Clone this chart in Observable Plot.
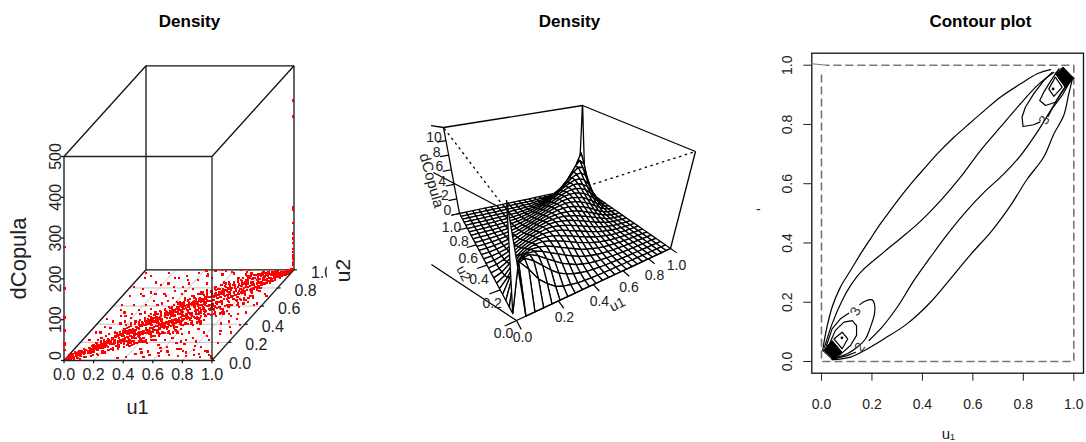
<!DOCTYPE html>
<html>
<head>
<meta charset="utf-8">
<script src="https://cdn.jsdelivr.net/npm/d3@7"></script>
<script src="https://cdn.jsdelivr.net/npm/@observablehq/plot@0.6"></script>
<style>
html,body{margin:0;padding:0;background:#fff;}
#page{position:relative;width:1086px;height:442px;overflow:hidden;}
#page svg{position:absolute;top:0;background:transparent;}
</style>
</head>
<body>
<div id="page"></div>
<script>
// ---------- shared labels ----------
const titles = ["Density", "Density", "Contour plot"];
const unitTicks = [0, 0.2, 0.4, 0.6, 0.8, 1];
const cubeZTicks = [0, 100, 200, 300, 400, 500];
const wireZTicks = [0, 2, 4, 6, 8, 10];

// ---------- panel 1: scatter cloud, u1,u2 pairs in hundredths ----------
const scatterPairs = [
1,2,2,1,3,3,2,4,4,2,1,5,5,3,3,6,6,4,4,7,7,5,2,2,1,1,5,6,3,1,1,3,6,7,8,6,4,4,5,8,7,9,8,8,9,7,6,9,10,8,9,11,3,5,2,6,7,3,10,1,8,2,6,1,4,1,12,3,9,4,10,6,11,9,8,11,7,12,5,10,9,9,11,12,12,10,3,8,
13,11,12,14,14,12,15,13,14,16,13,15,16,14,16,17,15,16,17,15,18,16,17,19,16,20,18,19,19,17,20,18,19,20,18,22,20,21,21,19,12,18,11,16,14,20,15,22,13,9,15,9,17,11,19,13,20,14,16,11,10,13,19,24,17,23,22,17,21,15,18,13,14,7,20,10,
11,15,13,17,12,8,14,9,15,18,16,13,17,13,18,20,19,15,20,23,11,10,13,13,15,15,17,17,19,19,12,12,14,14,16,16,18,18,20,20,
21,27,22,29,24,30,23,31,26,33,25,32,28,34,27,20,29,22,30,24,26,19,28,21,24,17,22,14,30,19,27,15,25,37,20,29,23,35,29,36,26,30,24,24,28,28,22,26,30,31,27,33,
21,25,22,18,23,28,24,19,25,30,26,22,27,31,28,24,29,33,20,24,21,18,22,27,23,19,24,28,25,21,26,32,27,23,28,32,29,25,30,35,21,30,23,27,25,26,27,28,29,30,30,26,28,19,26,26,24,32,22,22,20,26,
31,37,32,39,33,41,34,43,36,44,35,42,38,46,37,45,39,48,32,25,33,24,35,27,36,26,38,29,39,31,40,30,37,25,34,21,36,20,39,23,31,43,33,47,36,50,30,41,38,17,40,24,35,30,37,31,33,28,39,35,31,31,34,38,36,41,38,42,
31,35,32,28,33,38,34,29,35,40,36,31,37,42,38,33,39,44,40,35,31,26,32,37,33,27,34,40,35,29,36,43,37,33,38,44,39,33,40,45,32,34,34,30,36,35,38,38,40,41,30,33,33,44,35,46,37,28,39,42,31,40,
41,50,42,53,43,55,45,56,44,58,46,57,48,60,47,59,42,33,43,31,45,35,46,34,48,37,49,39,50,36,47,30,44,27,46,26,49,28,41,58,43,62,38,55,40,52,48,22,50,30,45,40,47,41,43,37,49,44,41,41,44,46,46,48,48,49,42,40,50,50,45,51,47,54,43,51,49,57,44,38,46,39,41,35,
41,45,42,37,43,49,44,39,45,50,46,41,47,53,48,43,49,55,50,45,41,36,42,47,43,38,44,51,45,39,46,53,47,43,48,55,49,42,50,56,42,43,44,40,46,46,48,48,50,52,40,45,43,54,45,58,47,36,49,51,41,52,42,49,44,55,46,37,48,42,50,41,
51,60,52,63,53,65,55,66,54,68,56,67,58,70,57,69,52,43,53,41,55,45,56,44,58,47,59,49,60,46,57,40,54,37,56,36,59,38,51,68,53,72,48,65,50,62,58,32,60,40,55,50,57,51,53,47,59,54,51,51,54,56,56,58,58,59,52,50,60,60,55,61,57,64,53,61,59,67,54,48,56,49,51,45,
50,56,52,46,54,60,53,48,56,59,55,52,57,65,59,54,58,66,60,53,51,44,52,58,53,49,54,63,55,48,56,62,58,51,59,64,60,57,51,53,53,55,55,48,57,57,59,60,50,53,52,65,54,67,56,45,58,50,60,63,51,57,53,44,55,64,57,47,59,55,
61,70,62,73,63,75,65,76,64,78,66,77,68,80,67,79,62,53,63,51,65,55,66,54,68,57,69,59,70,56,67,50,64,47,66,46,69,48,61,78,58,75,60,72,68,42,70,50,65,60,67,61,63,57,69,64,61,61,64,66,66,68,68,69,62,60,70,70,65,71,67,74,63,71,
61,65,62,58,64,70,63,56,66,72,65,59,67,72,68,63,69,75,70,64,60,66,62,55,63,69,64,59,65,73,66,61,68,76,67,60,69,71,70,65,61,63,63,65,65,66,67,69,69,62,62,70,64,74,66,73,68,58,60,55,
71,80,72,83,73,85,75,86,74,88,76,87,78,89,72,63,73,61,75,65,76,64,78,67,79,69,80,66,77,60,74,57,76,56,79,58,71,88,68,85,70,82,78,52,80,60,75,70,77,71,73,67,79,74,71,71,74,76,76,78,78,79,72,70,80,80,75,81,
71,74,73,68,72,79,74,70,75,82,76,71,77,83,78,72,79,85,80,74,70,77,71,65,73,80,74,68,76,84,75,69,78,84,77,73,79,80,80,76,72,72,74,74,76,76,78,77,71,67,73,78,75,84,77,67,
81,90,82,92,83,93,85,94,84,95,82,73,83,71,85,75,86,74,88,77,89,79,90,76,87,70,84,68,86,66,89,70,80,92,78,90,82,82,85,80,87,81,83,77,89,84,81,81,84,86,86,88,88,89,90,90,85,85,
81,84,83,78,82,88,84,79,85,90,86,81,87,92,88,83,89,93,90,85,80,86,81,75,83,89,84,77,86,93,85,78,88,94,87,83,89,90,90,87,82,83,84,84,86,86,88,88,81,77,83,87,85,91,87,79,
91,89,92,93,93,91,91,94,94,92,93,95,95,93,94,96,96,94,95,97,97,95,96,98,98,96,97,99,99,97,98,99,99,98,92,90,90,93,93,97,95,99,91,96,92,85,94,88,96,90,93,87,95,91,97,93,98,94,99,95,97,97,96,96,98,98,94,94,100,99,99,100,92,96,89,94,
91,92,92,87,93,89,94,91,95,94,96,92,97,96,98,95,99,96,90,95,91,88,92,94,93,93,94,97,95,96,96,95,97,98,98,97,99,99,100,98,98,100,
99,2,97,4,85,5,90,10,75,4,72,12,80,15,60,10,62,4,52,3,45,6,55,16,40,3,35,2,68,20,78,30,88,32,92,45,95,60,86,48,84,40,96,72,2,96,8,92,15,85,10,78,18,96,6,70,14,60,25,90,22,72,30,80,12,48,18,42,35,88,45,94,55,98,62,95,70,97,40,76,50,84,8,30,5,22,12,35,26,52,30,60,34,65,
12,24,15,28,18,30,11,22,14,26,17,5,19,6,16,4,13,3,20,5,
21,38,23,40,25,42,27,44,29,46,22,34,24,36,26,40,28,41,30,45,21,10,23,8,25,12,27,11,29,14,22,7,24,11,26,13,28,16,30,12,
31,48,33,52,35,54,37,56,39,58,32,45,34,49,36,53,38,55,40,57,31,17,33,14,35,18,37,19,39,18,32,20,34,16,36,15,38,24,40,20,31,50,35,50,39,54,33,19,37,16,
41,60,43,64,45,66,47,66,49,70,42,56,44,62,46,63,48,67,50,68,41,24,43,22,45,25,47,26,49,22,42,28,44,20,46,18,48,29,50,26,41,64,45,62,49,64,43,28,47,22,44,68,48,70,42,20,46,30,50,22,
51,72,53,74,55,75,57,76,59,78,52,67,54,72,56,73,58,76,60,77,51,34,53,32,55,35,57,30,59,31,52,37,54,30,56,28,58,38,60,34,51,75,55,71,59,74,53,38,57,33,54,77,58,80,52,29,56,40,60,30,
61,82,63,84,65,84,67,86,69,88,62,78,64,81,66,83,68,85,70,86,61,44,63,42,65,45,67,41,69,42,62,47,64,40,66,38,68,49,70,44,61,85,65,80,69,82,63,46,67,44,64,86,68,90,62,39,66,48,70,40,
71,90,73,92,75,92,77,93,79,94,72,87,74,91,76,90,78,93,80,94,71,55,73,52,75,56,77,51,79,52,72,57,74,50,76,48,78,60,80,54,71,94,75,89,79,90,73,58,77,55,74,95,72,49,76,59,80,50,
81,95,83,96,85,97,87,97,89,98,82,94,84,97,86,95,88,97,90,98,81,65,83,62,85,66,87,62,89,64,82,67,84,60,86,58,88,70,90,68,81,97,85,92,83,66,87,68,
30,38,32,43,34,45,36,47,38,50,40,51,42,54,44,54,46,59,48,58,50,60,52,62,54,64,56,65,58,68,60,69,62,72,64,74,66,75,68,78,70,79,
30,21,32,22,34,24,36,27,38,28,40,29,42,30,44,33,46,36,48,35,50,38,52,40,54,42,56,43,58,45,60,48,62,50,64,52,66,53,68,55,70,58,
31,39,33,40,35,45,37,47,39,47,41,49,43,50,45,54,47,55,49,59,51,61,53,60,55,65,57,67,59,69,61,69,63,72,65,74,67,77,69,79,
31,23,33,26,35,24,37,29,39,29,41,31,43,33,45,33,47,38,49,36,51,41,53,43,55,42,57,46,59,46,61,51,63,53,65,54,67,56,69,56,
45,12,48,8,52,9,55,5,58,13,60,7,62,14,65,9,68,5,70,12,72,17,75,10,78,8,80,4,82,11,85,14,88,6,90,3,92,9,95,5,98,2,66,18,70,22,74,24,78,20,82,26,86,22,90,28,94,18,96,30,98,38,92,36,88,42,84,50,90,50,94,52,96,62,98,70,56,22,60,24,64,28,68,30,72,34,
5,30,8,36,10,42,12,52,15,48,18,50,20,55,22,60,25,65,28,72,30,70,33,76,36,80,38,84,42,88,46,92,50,90,55,94,60,97,65,99,70,99,12,72,15,70,18,74,20,82,24,84,28,90,32,92,38,96,42,98,48,98,52,99,8,55,4,45,6,60,3,80,5,90,16,40,20,46,24,50,28,56,32,62,36,68,40,72,44,78
];
const highCornerZ = [416, 377, 154, 149, 115, 90, 78, 66, 53, 44, 36, 29, 19, 12];
const lowCornerZ = [277, 176, 105, 73, 41, 37, 25];

// ---------- panel 2: wire surface, rows from the diagonal outward ----------
const surfaceRows = [
[0],
[5.3,4.0,2.5,1.6,.9,.53,.32,.17,.1,.05,.03,.01],
[4.6,3.9,3.0,2.1,1.4,.97,.63,.41,.25,.15,.09,.05,.03,.01],
[4.0,3.5,2.8,2.2,1.6,1.2,.81,.56,.35,.23,.15,.09,.05,.03,.01],
[3.45,3.1,2.6,2.15,1.7,1.3,.95,.65,.46,.3,.2,.12,.07,.04,.02,.01],
[3.05,2.85,2.5,2.1,1.7,1.35,1.0,.74,.53,.36,.23,.14,.08,.04,.02,.01],
[2.85,2.65,2.35,2.05,1.7,1.35,1.05,.8,.57,.39,.26,.15,.09,.04,.02,.01],
[2.65,2.5,2.25,1.95,1.65,1.33,1.06,.8,.58,.4,.26,.15,.08,.04,.02,.01],
[2.5,2.4,2.2,1.9,1.63,1.35,1.06,.81,.59,.39,.26,.14,.07,.03,.01],
[2.4,2.3,2.1,1.88,1.6,1.33,1.05,.8,.57,.39,.23,.11,.05,.02],
[2.33,2.23,2.07,1.86,1.6,1.32,1.05,.78,.55,.34,.18,.08,.03],
[2.25,2.18,2.05,1.85,1.6,1.32,1.03,.76,.5,.27,.13,.04,.01],
[2.2,2.17,2.03,1.83,1.57,1.27,.97,.66,.39,.2,.06,.01]
];
const frontSpike = 13;
const backSpike = 11.8;
const zMax = 11.8;

// ---------- panel 3: contour paths as flat u1,u2 lists ----------
const smoothContours = [
[.005,.037,.016,.093,.042,.183,.075,.251,.115,.307,.155,.363,.194,.414,.234,.465,.273,.510,.320,.563,.366,.611,.406,.650,.458,.700,.524,.756,.577,.796,.643,.845,.709,.892,.789,.937,.855,.971,.908,.985],
[.042,.006,.115,.015,.174,.039,.247,.076,.339,.127,.432,.200,.511,.279,.590,.360,.676,.442,.749,.526,.815,.615,.881,.690,.921,.768,.960,.830,.980,.903,.993,.948],
[.012,.048,.042,.127,.082,.206,.115,.256,.155,.301,.247,.369,.313,.415,.392,.473,.472,.543,.551,.622,.630,.712,.709,.791,.789,.870,.855,.931,.921,.976],
[.188,.071,.240,.116,.300,.183,.366,.273,.432,.352,.498,.428,.577,.510,.643,.570,.723,.633,.789,.695,.855,.774,.908,.847,.960,.920,.993,.954],
[.152,.192,.174,.204,.201,.208,.211,.189,.210,.161,.194,.116,.174,.076,.141,.048,.102,.026,.042,.009]
];
const cornerContours = [
[.049,.009,.102,.020,.135,.031],
[.020,.054,.042,.110,.075,.144,.108,.163],
[.865,.808,.841,.799,.799,.793,.795,.825,.808,.858,.841,.903,.881,.948,.914,.976],
[.898,.827,.914,.853,.954,.898,.987,.948],
[.029,.054,.055,.105,.089,.133,.122,.138,.139,.121,.139,.088,.115,.054,.075,.024,.042,.009],
[.941,.988,.914,.954,.881,.909,.865,.881,.888,.864,.927,.875,.967,.926,.993,.960],
[.049,.076,.082,.099,.104,.076,.082,.043,.049,.076],
[.901,.920,.927,.960,.954,.926,.921,.895,.901,.920]
];
const denseWedges = [
[.007,.037,.042,.071,.082,.031,.046,.006],
[.958,.993,1.0,.956,.967,.924,.927,.971]
];
const peakDots = [[.081,.08],[.918,.92]];
const contourLabels = [
  {u1:.135, u2:.169, text:"3", rotate:-65},
  {u1:.883, u2:.815, text:"3", rotate:-65},
  {u1:.152, u2:.048, text:"2", rotate:-55}
];
const outlineDash = [[0,.967],[0,0],[1,0],[1,1],[.02,1]];
const outlineStub = [[-.04,1.005],[.02,1]];

// ---------- view set-up ----------
const FONT = "Liberation Sans, Arial, sans-serif";
const page = document.getElementById("page");
const pairs = flat => d3.range(0, flat.length, 2).map(k => [flat[k], flat[k + 1]]);
function mount(svg, left) { svg.style.left = left + "px"; page.appendChild(svg); }

// Panel 1 oblique view
const cube = {x0:63.5, xU:148, xV:82, y0:360, yV:90.7, yZ:.408};
const p1 = (u, v, z = 0) => ({x: cube.x0 + cube.xU*u + cube.xV*v, y: cube.y0 - cube.yV*v - cube.yZ*z});
const seg1 = (a, b) => { const p = p1(...a), q = p1(...b); return {x1:p.x, y1:p.y, x2:q.x, y2:q.y}; };

const scatter = pairs(scatterPairs).map(([a, b]) => p1(a/100, b/100, 2));
highCornerZ.forEach(z => scatter.push(p1(.995, .995, z)));
lowCornerZ.forEach(z => scatter.push(p1(.002, .002, z)));

const gridLines = unitTicks.slice(1, 5).flatMap(t => [seg1([t,0,0],[t,1,0]), seg1([0,t,0],[1,t,0])]);
const backEdges = [
  seg1([0,1,0],[0,1,500]), seg1([0,1,500],[1,1,500]), seg1([0,1,0],[1,1,0]),
  seg1([0,0,500],[0,1,500]), seg1([1,0,500],[1,1,500]), seg1([0,0,0],[0,1,0]),
  seg1([1,1,0],[1,1,500]), seg1([0,0,0],[0,0,500])
];
const frontEdges = [
  seg1([0,0,500],[1,0,500]), seg1([1,0,0],[1,0,500]), seg1([0,0,0],[1,0,0]), seg1([1,0,0],[1,1,0])
];
const cubeTicks = [
  ...unitTicks.map(t => seg1([t,0,0],[t,0,-7])),
  ...unitTicks.map(t => seg1([1,t,0],[1.02,t,0])),
  ...cubeZTicks.map(t => seg1([-.02,0,t],[0,0,t]))
];

const panel1 = Plot.plot({
  width: 362, height: 442, margin: 0, marginRight: 35,
  x: {domain:[0,327], range:[0,327], axis:null},
  y: {domain:[0,442], range:[0,442], axis:null},
  style: {fontFamily: FONT, background:"transparent"},
  marks: [
    Plot.link(gridLines, {x1:"x1",y1:"y1",x2:"x2",y2:"y2",stroke:"#c4c4c4",strokeWidth:1}),
    Plot.link(backEdges, {x1:"x1",y1:"y1",x2:"x2",y2:"y2",stroke:"#111",strokeWidth:1.3}),
    Plot.dot(scatter, {x:"x",y:"y",symbol:"square",r:1.25,fill:"#ff0000",stroke:"none",shapeRendering:"crispEdges"}),
    Plot.link(frontEdges, {x1:"x1",y1:"y1",x2:"x2",y2:"y2",stroke:"#222",strokeWidth:1.3}),
    Plot.link(cubeTicks, {x1:"x1",y1:"y1",x2:"x2",y2:"y2",stroke:"#111",strokeWidth:1.2}),
    Plot.text(unitTicks, {x:d=>p1(d,0).x, y:d=>p1(d,0).y, text:d=>d.toFixed(1), dy:14, fontSize:16, fill:"#222"}),
    Plot.text(unitTicks, {x:d=>p1(1,d).x, y:d=>p1(1,d).y, text:d=>d.toFixed(1), dx:28, dy:3, fontSize:16, fill:"#222", clip:"frame"}),
    Plot.text(cubeZTicks, {x:d=>p1(0,0).x, y:d=>p1(0,0,d===0?12:d).y, text:d=>String(d), dx:-8.5, rotate:-90, fontSize:16, fill:"#222"}),
    Plot.text(["dCopula"], {x:()=>18, y:()=>258, rotate:-90, fontSize:22, fill:"#222"}),
    Plot.text(["u1"], {x:()=>137, y:()=>407, fontSize:20, fill:"#222"}),
    Plot.text(["u2"], {x:()=>343, y:()=>270, rotate:-90, fontSize:21, fill:"#222"}),
    Plot.text([titles[0]], {x:()=>189, y:()=>21, fontSize:17, fontWeight:"bold", fill:"#000"})
  ]
});
mount(panel1, 0);

// Panel 2 perspective view: homographies of the floor and lid of the box
const floorCorners = [[516,320],[670,248],[582,187],[459,213]];
const lidCorners = [[507,211],[695,151],[582,105],[443,127]];
function homography([A,B,C,D]) {
  const sx = A[0]-B[0]+C[0]-D[0], sy = A[1]-B[1]+C[1]-D[1];
  const d1x = B[0]-C[0], d1y = B[1]-C[1], d2x = D[0]-C[0], d2y = D[1]-C[1];
  const det = d1x*d2y - d2x*d1y;
  const g = (sx*d2y - d2x*sy)/det, h = (d1x*sy - sx*d1y)/det;
  const a = B[0]-A[0]+g*B[0], b = D[0]-A[0]+h*D[0];
  const d = B[1]-A[1]+g*B[1], e = D[1]-A[1]+h*D[1];
  return (u,v) => { const w = 1+g*u+h*v; return [(a*u+b*v+A[0])/w, (d*u+e*v+A[1])/w]; };
}
const floorH = homography(floorCorners), lidH = homography(lidCorners);
const p2 = (u, v, t) => {
  const f = floorH(u,v), l = lidH(u,v);
  return {x: f[0]+(l[0]-f[0])*t, y: f[1]+(l[1]-f[1])*t};
};
const seg2 = (a, b) => { const p = p2(...a), q = p2(...b); return {x1:p.x, y1:p.y, x2:q.x, y2:q.y}; };

function height(i, j) {
  if (i===0 && j===0) return frontSpike;
  if (i===24 && j===24) return backSpike;
  if (i>j) [i,j] = [j,i];
  if (i+j>24) [i,j] = [24-j,24-i];
  const row = surfaceRows[i] || [];
  const val = row[j-i];
  return val === undefined ? 0 : val;
}
const N = 24;
const cells = [];
d3.range(2*N-2, -1, -1).forEach(sum => {
  d3.range(0, N).forEach(i => {
    const j = sum - i;
    if (j<0 || j>=N) return;
    const id = i*100 + j;
    [[i,j],[i+1,j],[i+1,j+1],[i,j+1]].forEach(([a,b]) => {
      const p = p2(a/N, b/N, height(a,b)/zMax);
      cells.push({cell:id, x:p.x, y:p.y});
    });
  });
});
const boxSolid = [
  seg2([0,1,1],[1,1,1]), seg2([1,1,1],[1,0,1]), seg2([1,0,1],[1,0,0]),
  seg2([0,1,1],[0,1,0]), seg2([1,1,0],[1,1,1])
];
const boxDotted = [seg2([0,0,1],[0,1,1]), seg2([0,0,1],[1,0,1])];
const boxClipped = [
  seg2([0,0,0],[-.233,.541,0]),
  seg2([0,0,1],[-.16,.428,1]),
  seg2([0,1,1],[-.059,1.075,1])
];
const wireTicks = [
  ...unitTicks.map(t => seg2([t,0,0],[t,-.05,0])),
  ...unitTicks.map(t => seg2([0,t,0],[-.05,t,0])),
  ...wireZTicks.map(t => seg2([0,1,t/zMax],[-.05,1,t/zMax]))
];
const frontEdge = [seg2([0,0,0],[1,0,0])];
const lab2u1 = unitTicks.map(t => ({...p2(t,0,0), t}));
const lab2u2 = unitTicks.map(t => ({...p2(0,t,0), t}));
const lab2z = wireZTicks.map(t => ({...p2(0,1,t/zMax), t}));

const panel2 = Plot.plot({
  width: 320, height: 442, margin: 0, marginLeft: 31,
  x: {domain:[431,720], range:[31,320], axis:null},
  y: {domain:[0,442], range:[0,442], axis:null},
  style: {fontFamily: FONT, background:"transparent"},
  marks: [
    Plot.link(boxDotted, {x1:"x1",y1:"y1",x2:"x2",y2:"y2",stroke:"#000",strokeWidth:1.3,strokeDasharray:"2.5,3.5"}),
    Plot.link(boxSolid, {x1:"x1",y1:"y1",x2:"x2",y2:"y2",stroke:"#000",strokeWidth:1.3}),
    Plot.link(boxClipped, {x1:"x1",y1:"y1",x2:"x2",y2:"y2",stroke:"#000",strokeWidth:1.3,clip:"frame"}),
    Plot.line(cells, {x:"x",y:"y",z:"cell",fill:"#fff",stroke:"#000",strokeWidth:1.3,curve:"linear-closed"}),
    Plot.link(frontEdge, {x1:"x1",y1:"y1",x2:"x2",y2:"y2",stroke:"#000",strokeWidth:1.3}),
    Plot.link(wireTicks, {x1:"x1",y1:"y1",x2:"x2",y2:"y2",stroke:"#000",strokeWidth:1.2}),
    Plot.text(lab2u1, {x:"x",y:"y",text:d=>d.t.toFixed(1),dx:6,dy:17,fontSize:14,fill:"#222"}),
    Plot.text(lab2u2.slice(1), {x:"x",y:"y",text:d=>d.t.toFixed(1),dx:-8,dy:14,fontSize:14,fill:"#222"}),
    Plot.text(lab2u2.slice(0,1), {x:"x",y:"y",text:d=>d.t.toFixed(1),dx:-13,dy:13,fontSize:14,fill:"#222"}),
    Plot.text(lab2z, {x:"x",y:"y",text:d=>String(d.t),dx:-12,dy:-3,fontSize:14,fill:"#222"}),
    Plot.text(["dCopula"], {x:()=>431, y:()=>180, rotate:74, fontSize:15, fill:"#222"}),
    Plot.text(["u2"], {x:()=>463, y:()=>273, rotate:62, fontSize:14, fill:"#222"}),
    Plot.text(["u1"], {x:()=>617, y:()=>304, rotate:-27, fontSize:14, fill:"#222"}),
    Plot.text([titles[1]], {x:()=>569, y:()=>21, fontSize:17, fontWeight:"bold", fill:"#000"})
  ]
});
mount(panel2, 400);

// Panel 3 contour chart with real axes
const rowsOf = list => list.flatMap((flat, id) => pairs(flat).map(([u1,u2]) => ({id,u1,u2})));

const panel3 = Plot.plot({
  width: 336, height: 442,
  marginLeft: 61.3, marginRight: 3, marginTop: 52.7, marginBottom: 69.3,
  x: {domain:[-.0384,1.0385], label:null},
  y: {domain:[-.0395,1.0405], label:null},
  style: {fontFamily: FONT, fontSize:"14px", background:"transparent", color:"#222"},
  marks: [
    Plot.frame({stroke:"#111",strokeWidth:1.3}),
    Plot.axisX(unitTicks, {tickSize:8, tickPadding:18, tickFormat:d=>d.toFixed(1), fontSize:14, label:null}),
    Plot.axisY(unitTicks, {tickSize:8, tickPadding:12, tickRotate:-90, tickFormat:d=>d.toFixed(1), fontSize:14, label:null, textAnchor:"middle"}),
    Plot.line(outlineDash, {x:"0",y:"1",stroke:"#777",strokeWidth:1.6,strokeDasharray:"7,5"}),
    Plot.line(outlineStub, {x:"0",y:"1",stroke:"#777",strokeWidth:1}),
    Plot.line(rowsOf(smoothContours), {x:"u1",y:"u2",z:"id",stroke:"#000",strokeWidth:1.2,curve:"catmull-rom"}),
    Plot.line(rowsOf(cornerContours), {x:"u1",y:"u2",z:"id",stroke:"#000",strokeWidth:1.2}),
    Plot.line(rowsOf(denseWedges), {x:"u1",y:"u2",z:"id",fill:"#000",stroke:"#000",strokeWidth:1,curve:"linear-closed"}),
    Plot.dot(peakDots, {x:"0",y:"1",r:1.4,fill:"#000",stroke:"none"}),
    Plot.text(contourLabels, {x:"u1",y:"u2",text:"text",rotate:d=>d.rotate,fontSize:14,fill:"#333"}),
    Plot.text(["u\u2081"], {x:()=>.503, y:()=>-.246, fontSize:15, fill:"#222"}),
    Plot.text(["-"], {x:()=>-.25, y:()=>.513, fontSize:14, fill:"#222"}),
    Plot.text([titles[2]], {x:()=>.63, y:()=>1.147, fontSize:17, fontWeight:"bold", fill:"#000"})
  ]
});
mount(panel3, 750);
</script>
</body>
</html>
